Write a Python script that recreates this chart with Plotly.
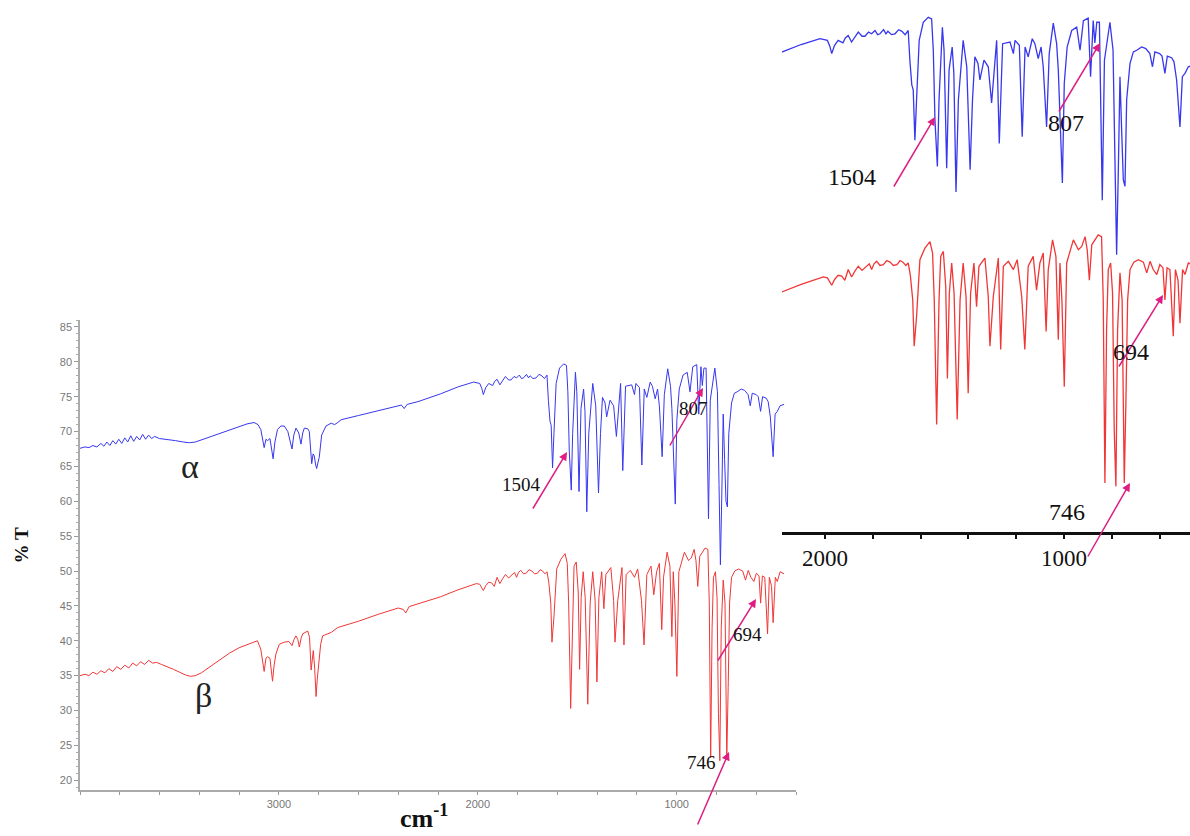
import plotly.graph_objects as go

# ---------------- data (wavenumber cm-1, %T) ----------------
alpha = [
    (4000, 67.6), (3975, 67.8), (3955, 67.7), (3935, 68.0), (3915, 67.8), (3895, 68.3), (3880, 67.9),
    (3865, 68.5), (3850, 68.0), (3835, 68.7), (3820, 68.2), (3805, 68.9), (3790, 68.3), (3775, 69.1),
    (3760, 68.5), (3745, 69.4), (3730, 68.6), (3715, 69.3), (3700, 68.8), (3685, 69.6), (3670, 68.9),
    (3655, 69.5), (3640, 69.0), (3625, 69.3), (3600, 69.0), (3560, 68.9), (3520, 68.7), (3480, 68.5),
    (3450, 68.4), (3420, 68.5), (3380, 68.9), (3340, 69.3), (3300, 69.8), (3250, 70.3), (3200, 70.8),
    (3160, 71.1), (3125, 71.3), (3105, 71.0), (3091, 70.3), (3080, 68.5), (3074, 67.7), (3065, 68.9),
    (3057, 68.7), (3045, 69.0), (3036, 67.0), (3029, 66.1), (3020, 68.5), (3007, 70.3), (2990, 70.8),
    (2973, 70.8), (2955, 70.0), (2940, 68.0), (2934, 67.5), (2925, 69.5), (2914, 70.5), (2900, 69.8),
    (2889, 68.2), (2880, 69.8), (2872, 70.5), (2855, 70.4), (2847, 70.0), (2838, 66.5), (2835, 65.4),
    (2828, 66.8), (2822, 66.5), (2815, 65.2), (2810, 64.7), (2804, 65.5), (2797, 66.3), (2785, 69.5),
    (2763, 70.8), (2737, 71.2), (2720, 71.0), (2704, 71.3), (2687, 71.7), (2600, 72.3), (2500, 73.0),
    (2400, 73.7), (2384, 73.8), (2370, 73.3), (2355, 73.9), (2300, 74.3), (2250, 74.8), (2188, 75.4),
    (2100, 76.4), (2021, 77.1), (1990, 76.9), (1980, 76.2), (1972, 75.3), (1960, 76.3), (1945, 76.9),
    (1925, 76.6), (1915, 77.2), (1903, 77.5), (1889, 76.7), (1875, 77.3), (1861, 77.9), (1845, 77.4),
    (1833, 77.4), (1818, 77.9), (1805, 77.7), (1791, 78.1), (1780, 77.6), (1770, 77.7), (1755, 78.2),
    (1745, 77.7), (1737, 78.0), (1722, 77.6), (1707, 77.7), (1692, 78.2), (1678, 78.0), (1665, 77.6),
    (1652, 78.1), (1645, 74.5), (1637, 71.5), (1631, 70.9), (1624, 64.8), (1617, 69.7), (1606, 76.9),
    (1589, 79.1), (1568, 79.7), (1554, 79.5), (1547, 75.7), (1540, 67.2), (1530, 61.6), (1523, 69.7),
    (1509, 78.5), (1502, 75.7), (1491, 61.4), (1481, 73.3), (1468, 76.1), (1461, 72.9), (1452, 58.5),
    (1442, 69.7), (1422, 76.9), (1407, 73.7), (1393, 61.2), (1383, 69.7), (1373, 74.9), (1360, 74.1),
    (1352, 72.1), (1335, 74.5), (1317, 73.7), (1303, 69.3), (1282, 76.9), (1271, 64.4), (1257, 76.5),
    (1226, 76.7), (1212, 75.3), (1205, 76.9), (1187, 76.3), (1175, 65.2), (1163, 76.1), (1150, 74.9),
    (1133, 77.1), (1122, 76.5), (1108, 74.7), (1096, 76.1), (1087, 73.7), (1073, 66.4), (1062, 75.3),
    (1045, 79.0), (1031, 76.5), (1024, 73.3), (1020, 70.1), (1007, 59.6), (999, 71.7), (987, 76.1),
    (968, 78.1), (947, 78.5), (933, 75.7), (919, 79.3), (899, 79.6), (889, 72.5), (878, 79.3),
    (871, 76.6), (863, 79.1), (852, 79.1), (840, 57.5), (831, 74.5), (808, 79.1), (795, 75.7),
    (787, 62.4), (780, 50.9), (773, 61.0), (766, 72.5), (759, 66.0), (752, 60.0), (745, 59.2),
    (738, 69.7), (724, 74.1), (710, 75.5), (696, 75.7), (675, 76.1), (658, 75.9), (641, 75.3),
    (630, 73.7), (620, 75.5), (600, 75.3), (590, 75.0), (578, 72.9), (568, 75.0), (550, 74.8),
    (540, 74.3), (529, 72.1), (515, 66.4), (505, 72.5), (494, 72.9), (480, 73.7), (460, 73.9),
]

beta = [
    (4000, 35.0), (3975, 35.2), (3955, 35.0), (3935, 35.5), (3915, 35.2), (3895, 35.7), (3875, 35.4),
    (3855, 36.0), (3835, 35.6), (3815, 36.3), (3795, 35.9), (3775, 36.5), (3755, 36.1), (3735, 36.8),
    (3715, 36.4), (3695, 37.0), (3675, 36.6), (3655, 37.2), (3635, 36.8), (3615, 36.9), (3590, 36.6),
    (3560, 36.3), (3530, 35.9), (3500, 35.5), (3470, 35.1), (3445, 34.9), (3420, 35.0), (3390, 35.4),
    (3350, 36.2), (3300, 37.3), (3250, 38.2), (3200, 39.0), (3150, 39.6), (3108, 40.0), (3091, 38.8),
    (3080, 36.5), (3074, 35.6), (3065, 37.5), (3057, 37.7), (3045, 37.5), (3036, 35.5), (3032, 34.2),
    (3024, 36.5), (3015, 38.1), (2998, 39.5), (2973, 39.8), (2950, 39.9), (2940, 39.4), (2934, 39.3),
    (2924, 40.2), (2914, 40.7), (2905, 40.2), (2897, 39.1), (2888, 40.4), (2880, 41.0), (2855, 41.4),
    (2846, 40.5), (2838, 35.8), (2832, 37.5), (2827, 38.6), (2820, 36.0), (2813, 32.0), (2807, 34.5),
    (2801, 36.7), (2790, 39.5), (2780, 40.7), (2760, 40.9), (2737, 41.2), (2704, 41.9), (2600, 42.8),
    (2500, 43.8), (2400, 44.7), (2375, 44.5), (2362, 44.0), (2345, 44.9), (2300, 45.3), (2250, 45.8),
    (2188, 46.3), (2100, 47.3), (2007, 48.2), (1990, 48.1), (1980, 47.6), (1972, 47.2), (1960, 47.9),
    (1945, 48.4), (1930, 48.3), (1917, 47.8), (1903, 49.1), (1889, 48.2), (1875, 48.9), (1861, 49.5),
    (1845, 49.0), (1826, 49.5), (1815, 49.8), (1805, 49.1), (1795, 49.8), (1784, 50.1), (1770, 49.6),
    (1756, 49.7), (1742, 50.2), (1728, 50.0), (1714, 49.6), (1699, 49.7), (1686, 50.2), (1674, 50.0),
    (1662, 49.6), (1652, 49.9), (1643, 48.4), (1633, 45.4), (1627, 39.8), (1617, 43.4), (1603, 50.3),
    (1582, 51.7), (1561, 52.5), (1550, 51.1), (1543, 45.4), (1533, 30.3), (1523, 45.4), (1516, 50.7),
    (1505, 51.3), (1495, 47.0), (1488, 35.9), (1480, 46.2), (1470, 49.9), (1460, 46.2), (1447, 30.9),
    (1435, 45.4), (1422, 49.9), (1410, 45.8), (1401, 34.1), (1391, 46.2), (1377, 49.9), (1366, 44.6),
    (1356, 49.5), (1331, 50.5), (1317, 45.8), (1310, 39.8), (1296, 45.8), (1275, 50.5), (1265, 39.4),
    (1254, 49.5), (1233, 50.1), (1212, 49.1), (1196, 50.3), (1177, 45.8), (1164, 39.4), (1150, 49.5),
    (1129, 50.7), (1115, 46.6), (1101, 49.9), (1087, 51.1), (1075, 41.6), (1066, 49.1), (1048, 52.7),
    (1034, 50.7), (1024, 40.6), (1017, 49.9), (1009, 45.4), (999, 34.9), (989, 49.9), (961, 52.7),
    (940, 51.5), (926, 51.9), (912, 53.1), (903, 51.5), (894, 47.8), (884, 52.1), (857, 53.3),
    (843, 53.1), (836, 45.4), (829, 23.2), (822, 41.8), (815, 49.1), (805, 49.9), (797, 46.2),
    (790, 29.6), (783, 22.8), (776, 41.8), (766, 48.7), (757, 45.4), (754, 37.7), (748, 23.2),
    (741, 33.3), (734, 45.4), (724, 49.1), (708, 50.0), (689, 50.3), (668, 50.0), (654, 48.7),
    (640, 50.1), (627, 49.1), (612, 48.5), (599, 49.7), (586, 49.3), (578, 45.4), (569, 49.3),
    (557, 49.1), (543, 41.0), (534, 49.1), (523, 47.8), (515, 42.6), (504, 49.1), (494, 48.5),
    (480, 49.9), (460, 49.6),
]

main_xticks = [3000, 2000, 1000]
inset_xticks = [2000, 1000]
peak_labels = ["1504", "807", "694", "746"]

alpha_wn = [p[0] for p in alpha]
alpha_t = [p[1] for p in alpha]
beta_wn = [p[0] for p in beta]
beta_t = [p[1] for p in beta]

# ---------------- layout helpers (pixels -> paper) ----------------
W, H = 1190, 836
def px(x):
    return x / W
def py(y):
    return 1 - y / H

BLUE = "rgb(55,55,238)"
RED = "rgb(240,55,55)"
PINK = "rgb(222,30,130)"
SERIF = "Liberation Serif"
NARROW = "Liberation Sans Narrow, Arial Narrow, Liberation Sans, Arial, sans-serif"

fig = go.Figure()
fig.add_trace(go.Scatter(x=alpha_wn, y=alpha_t, mode="lines", line=dict(color=BLUE, width=1),
                         xaxis="x", yaxis="y", name="α"))
fig.add_trace(go.Scatter(x=beta_wn, y=beta_t, mode="lines", line=dict(color=RED, width=1),
                         xaxis="x", yaxis="y", name="β"))
fig.add_trace(go.Scatter(x=alpha_wn, y=alpha_t, mode="lines", line=dict(color=BLUE, width=1.3),
                         xaxis="x2", yaxis="y2", name="α inset"))
fig.add_trace(go.Scatter(x=beta_wn, y=beta_t, mode="lines", line=dict(color=RED, width=1.3),
                         xaxis="x2", yaxis="y2", name="β inset"))

annotations = []

# arrows: (tail_x, tail_y, head_x, head_y) in pixels
main_arrows = [(532, 510, 567, 452), (669, 447, 703, 388), (717, 662, 756, 599), (697, 826, 729, 752)]
inset_arrows = [(893, 188, 935, 117), (1058, 113, 1100, 43), (1118, 368, 1163, 295), (1087, 558, 1130, 483)]
for (tx, ty, hx, hy) in main_arrows + inset_arrows:
    annotations.append(dict(xref="paper", yref="paper", x=px(hx), y=py(hy), ax=tx - hx, ay=ty - hy,
                            axref="pixel", ayref="pixel", text="", showarrow=True, arrowhead=2,
                            arrowsize=1.1, arrowwidth=1.5, arrowcolor=PINK))

main_label_pos = [(521, 485), (693, 408), (747, 647), (701, 775)]
inset_label_pos = [(878, 162), (1086, 108), (1151, 352), (1087, 512)]
for lab, (x, y) in zip(peak_labels, main_label_pos):
    annotations.append(dict(xref="paper", yref="paper", x=px(x), y=py(y), text=lab, showarrow=False,
                            font=dict(family=SERIF, size=19, color="#111")))
for lab, (x, y) in zip(peak_labels, inset_label_pos):
    annotations.append(dict(xref="paper", yref="paper", x=px(x), y=py(y), text=lab, showarrow=False,
                            font=dict(family=SERIF, size=24, color="#111")))

# series labels
annotations.append(dict(xref="paper", yref="paper", x=px(179), y=py(466), text="α", showarrow=False,
                        font=dict(family=SERIF, size=34, color="#222")))
annotations.append(dict(xref="paper", yref="paper", x=px(193), y=py(716), text="β", showarrow=False,
                        font=dict(family=SERIF, size=34, color="#222")))
# axis titles
annotations.append(dict(xref="paper", yref="paper", x=px(8), y=py(566), text="<b>% T</b>", showarrow=False,
                        textangle=-90, font=dict(family=SERIF, size=19, color="#111")))
annotations.append(dict(xref="paper", yref="paper", x=px(424), y=py(835), yanchor="bottom",
                        text="<b>cm<sup>-1</sup></b>",
                        showarrow=False, font=dict(family=SERIF, size=26, color="#111")))

fig.update_layout(
    width=W, height=H,
    margin=dict(l=0, r=0, t=0, b=0),
    paper_bgcolor="white", plot_bgcolor="rgba(0,0,0,0)",
    showlegend=False,
    xaxis=dict(domain=[px(80), px(796)], range=[4000, 400], anchor="y",
               tickmode="array", tickvals=main_xticks, ticks="outside", ticklen=3, tickcolor="#999",
               showline=True, linecolor="#aaa", linewidth=1.5, showgrid=False, zeroline=False,
               tickfont=dict(family=NARROW, size=11, color="#777"),
               minor=dict(dtick=200, tick0=0, ticks="outside", ticklen=3, tickcolor="#999")),
    yaxis=dict(domain=[py(790), py(320)], range=[18.6, 86.0], anchor="x",
               tick0=20, dtick=5, ticks="outside", ticklen=4, tickcolor="#999",
               showline=True, linecolor="#aaa", linewidth=1.5, showgrid=False, zeroline=False,
               tickfont=dict(family=NARROW, size=11, color="#777"),
               minor=dict(dtick=1, tick0=20, ticks="outside", ticklen=2, tickcolor="#aaa")),
    xaxis2=dict(domain=[px(782), 1.0], range=[2180, 473], anchor="y2",
                tickmode="array", tickvals=inset_xticks, ticks="outside", ticklen=4, tickwidth=2,
                tickcolor="#111", showline=True, linecolor="#111", linewidth=3, showgrid=False,
                zeroline=False, tickfont=dict(family=SERIF, size=23, color="#111"),
                minor=dict(dtick=200, tick0=0, ticks="outside", ticklen=4, tickwidth=2, tickcolor="#111")),
    yaxis2=dict(domain=[py(531.7), 1.0], range=[17.3, 81.8], anchor="x2", visible=False),
    annotations=annotations,
)

fig.write_html("out.html", config={"displayModeBar": False},
               post_script="document.body.style.margin='0px';")
